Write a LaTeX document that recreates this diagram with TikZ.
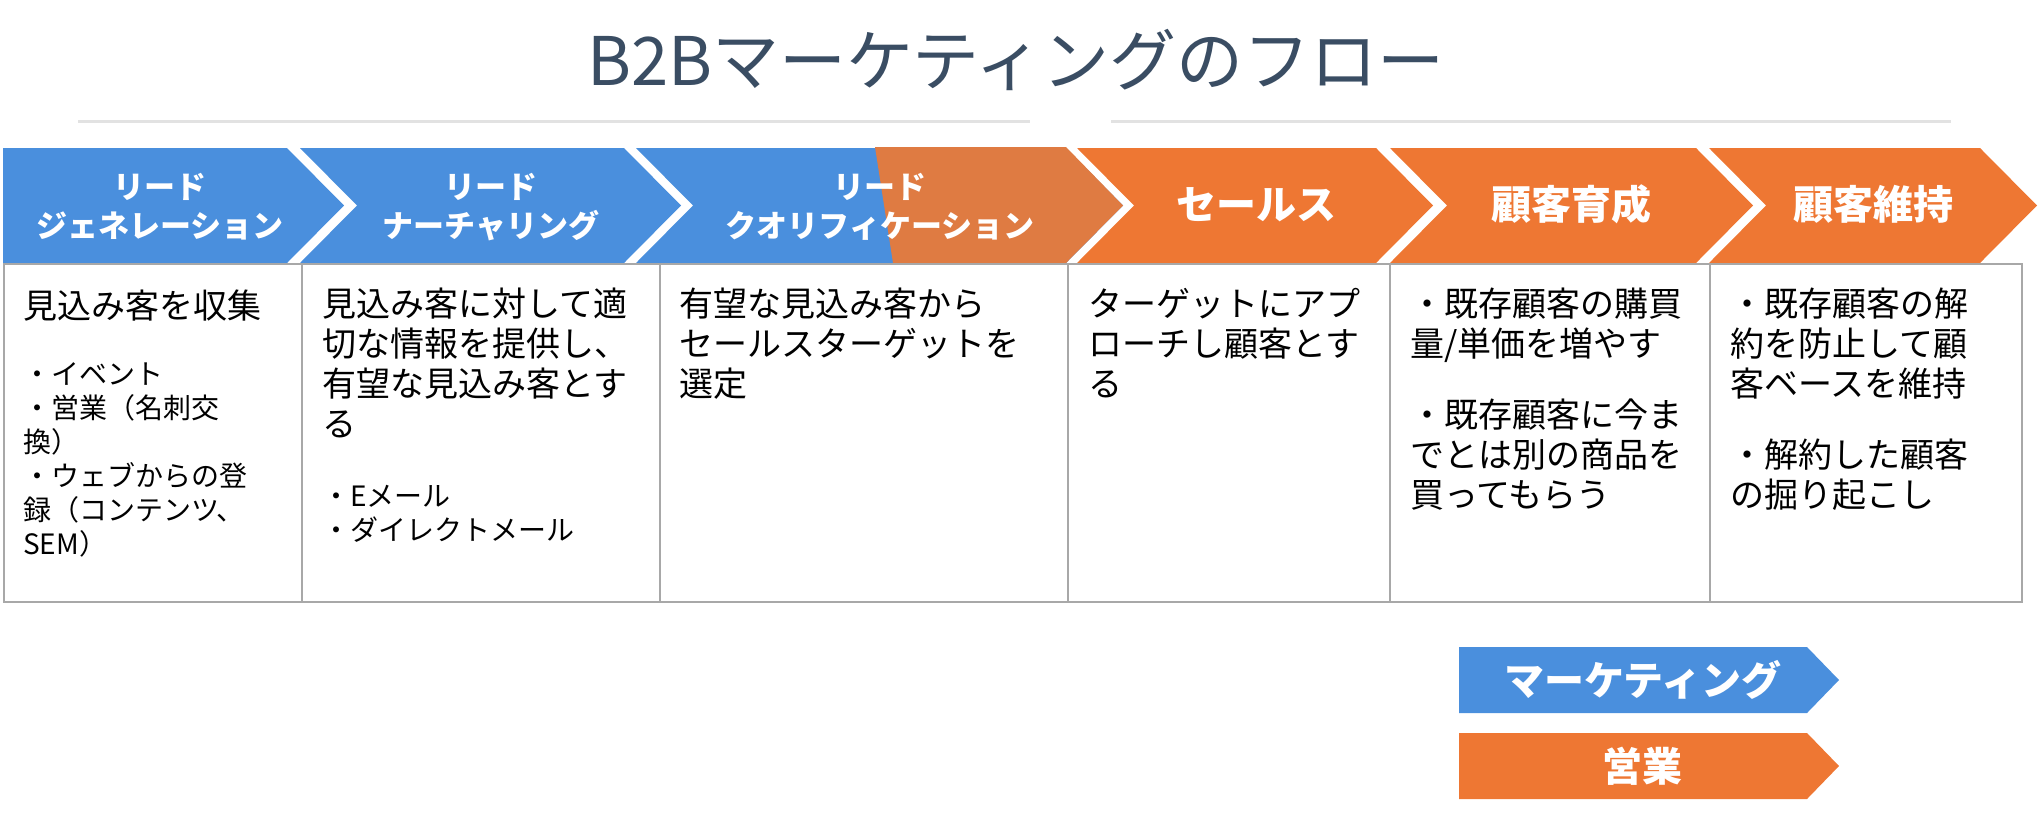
\documentclass[tikz,border=0pt]{standalone}
\usepackage{fontspec}
\setmainfont{Noto Sans CJK JP}
\definecolor{mktblue}{HTML}{4A8FDD}
\definecolor{salesorange}{HTML}{EE7733}
\definecolor{mixorange}{HTML}{DF7B42}
\definecolor{titleslate}{HTML}{3A4D63}
\definecolor{cellgray}{HTML}{A8A8A8}
\definecolor{rulegray}{HTML}{E2E2E2}
\tikzset{
	steptext/.style={text=white, font=\bfseries\fontsize{31}{39}\selectfont, align=center, anchor=base, inner sep=0pt},
	stagetext/.style={text=white, font=\bfseries\fontsize{40}{46}\selectfont, anchor=base, inner sep=0pt},
	celltext/.style={font=\fontsize{34}{40}\selectfont, align=left, anchor=base west, inner sep=0pt},
	celllist/.style={font=\fontsize{28}{34}\selectfont, align=left, anchor=base west, inner sep=0pt},
	cellline/.style={draw=cellgray, line width=2.5pt},
}
\begin{document}
\begin{tikzpicture}[x=1pt,y=-1pt]
	\useasboundingbox (0,0) rectangle (2044,820);
	%titre
	\node[text=titleslate, font=\fontsize{67}{75}\selectfont, anchor=base, inner sep=0pt] (title) at (1016,85) {B2Bマーケティングのフロー};
	\draw[rulegray, line width=3pt] (78,121) -- (1030,121);
	\draw[rulegray, line width=3pt] (1111,121) -- (1951,121);
	%les fleches
	\fill[mktblue] (3,148) -- (287,148) -- (344,205.5) -- (287,263) -- (3,263) -- cycle;
	\fill[mktblue] (300,148) -- (624,148) -- (681,205.5) -- (624,263) -- (300,263) -- (357,205.5) -- cycle;
	\fill[mktblue] (636,148) -- (1066,148) -- (1123,205.5) -- (1066,263) -- (636,263) -- (693,205.5) -- cycle;
	\fill[mixorange] (875,147) -- (1066,147) -- (1123,205.5) -- (1066,263) -- (893,263) -- cycle;
	\fill[salesorange] (1077,148) -- (1376,148) -- (1433,205.5) -- (1376,263) -- (1077,263) -- (1134,205.5) -- cycle;
	\fill[salesorange] (1390,148) -- (1696,148) -- (1753,205.5) -- (1696,263) -- (1390,263) -- (1447,205.5) -- cycle;
	\fill[salesorange] (1709,148) -- (1980,148) -- (2037,205.5) -- (1980,263) -- (1709,263) -- (1766,205.5) -- cycle;
	% (base = derniere ligne)
	\node[steptext] (leadgen) at (160,237) {リード\\ジェネレーション};
	\node[steptext] (leadnur) at (491,237) {リード\\ナーチャリング};
	\node[steptext] (leadqual) at (880,237) {リード\\クオリフィケーション};
	\node[stagetext] (sales) at (1256,219) {セールス};
	\node[stagetext] (growth) at (1571,219) {顧客育成};
	\node[stagetext] (retain) at (1873,219) {顧客維持};
	%tableau
	\draw[cellline] (4,264) rectangle (2022,602);
	\draw[cellline] (302,264) -- (302,602);
	\draw[cellline] (660,264) -- (660,602);
	\draw[cellline] (1068,264) -- (1068,602);
	\draw[cellline] (1390,264) -- (1390,602);
	\draw[cellline] (1710,264) -- (1710,602);
	\node[celltext] (gentext) at (23,318) {見込み客を収集};
	\node[celllist] (genlist) at (23,554) {・イベント\\・営業（名刺交\\換）\\・ウェブからの登\\録（コンテンツ、\\SEM）};
	\node[celltext] (nurtext) at (322,436) {見込み客に対して適\\切な情報を提供し、\\有望な見込み客とす\\る};
	\node[celllist] (nurlist) at (322,540) {・Eメール\\・ダイレクトメール};
	\node[celltext] (qualtext) at (679,396) {有望な見込み客から\\セールスターゲットを\\選定};
	\node[celltext] (salestext) at (1088,396) {ターゲットにアプ\\ローチし顧客とす\\る};
	\node[celltext] (growthtext) at (1410,507) {・既存顧客の購買\\量/単価を増やす\\[31pt]・既存顧客に今ま\\でとは別の商品を\\買ってもらう};
	\node[celltext] (retaintext) at (1730,507) {・既存顧客の解\\約を防止して顧\\客ベースを維持\\[31pt]・解約した顧客\\の掘り起こし};
	%legende
	\fill[mktblue] (1459,647) -- (1807,647) -- (1839,680) -- (1807,713) -- (1459,713) -- cycle;
	\fill[salesorange] (1459,733) -- (1807,733) -- (1839,766) -- (1807,799) -- (1459,799) -- cycle;
	\node[stagetext] (mktkey) at (1643,695) {マーケティング};
	\node[stagetext] (saleskey) at (1642,781) {営業};
\end{tikzpicture}
\end{document}
